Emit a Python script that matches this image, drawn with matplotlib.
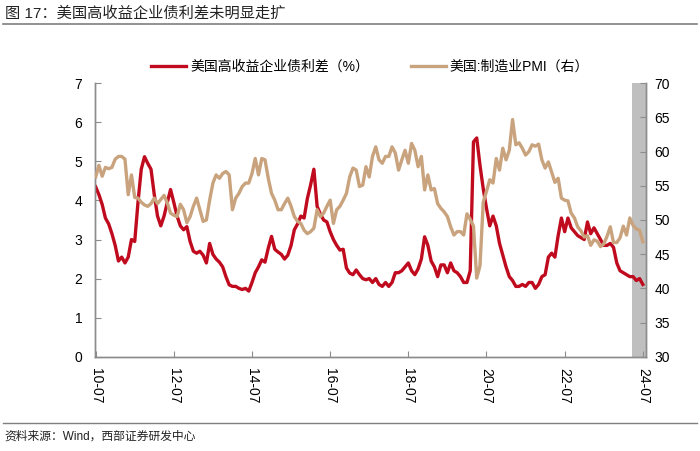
import matplotlib
matplotlib.use("Agg")
import matplotlib.pyplot as plt
import numpy as np
from matplotlib.lines import Line2D

plt.rcParams['font.family'] = ['Liberation Sans', 'Noto Sans CJK SC', 'DejaVu Sans']

# monthly data, 2010-07 .. 2024-07
spread = [4.35, 4.15, 3.9, 3.55, 3.4, 3.15, 2.85, 2.45, 2.55, 2.4, 2.55, 3.0,
          2.95, 3.95, 4.8, 5.12, 4.95, 4.8, 4.15, 3.6, 3.35, 3.6, 3.95, 4.28,
          3.95, 3.6, 3.35, 3.25, 3.33, 2.95, 2.7, 2.65, 2.7, 2.6, 2.4, 2.9,
          2.62, 2.5, 2.42, 2.3, 2.05, 1.84, 1.8, 1.8, 1.75, 1.72, 1.75, 1.68,
          1.9, 2.15, 2.3, 2.48, 2.42, 2.78, 3.08, 2.75, 2.68, 2.62, 2.5, 2.6,
          2.85, 3.25, 3.4, 3.6, 3.55, 4.05, 4.4, 4.8, 3.85, 3.65, 3.5, 3.45,
          3.2, 3.0, 2.85, 2.73, 2.75, 2.27, 2.14, 2.1, 2.22, 2.1, 2.0, 1.97,
          2.0, 1.9, 2.0, 1.85, 1.8, 1.9, 1.8, 1.9, 2.15, 2.15, 2.2, 2.3,
          2.4, 2.2, 2.1, 2.25, 2.5, 3.07, 2.85, 2.45, 2.3, 2.05, 2.35, 2.35,
          2.15, 2.4, 2.2, 2.15, 2.05, 1.9, 1.9, 2.2, 5.5, 5.6, 4.9, 4.3,
          3.8, 3.35, 3.6, 3.35, 2.9, 2.6, 2.3, 2.05, 1.95, 1.8, 1.8, 1.85,
          1.8, 1.9, 1.9, 1.75, 1.85, 2.05, 2.1, 2.55, 2.65, 2.55, 3.1, 3.55,
          3.2, 3.55, 3.3, 3.2, 3.1, 3.05, 3.0, 3.45, 3.15, 3.3, 3.15, 3.0,
          2.85, 2.85, 2.9, 2.8, 2.4, 2.2, 2.15, 2.1, 2.05, 2.05, 1.95, 2.0, 1.85]

pmi = [56.3, 58.0, 56.4, 57.7, 57.5, 57.7, 58.9, 59.3, 59.3, 58.9, 53.7, 56.6,
       53.3, 53.2, 52.6, 52.2, 52.0, 52.4, 53.2, 52.4, 53.0, 53.6, 52.5, 51.0,
       50.7, 50.5, 52.3, 51.5, 49.6, 50.5, 52.0, 53.2, 51.5, 49.8, 50.0, 52.9,
       55.4, 56.6, 56.1, 56.8, 57.1, 56.6, 51.5, 53.2, 53.9, 54.9, 55.4, 55.4,
       56.8, 59.0, 56.6, 59.0, 58.8, 56.1, 53.9, 52.9, 51.5, 51.5, 52.4, 53.2,
       52.0, 50.5, 49.8, 49.5, 48.5, 48.0, 48.3, 48.8, 51.5, 50.5, 51.0, 52.0,
       52.9, 49.5, 51.5, 52.0, 52.9, 53.9, 56.3, 57.6, 57.3, 54.9, 55.1, 57.8,
       56.3, 59.3, 60.7, 58.8, 58.3, 59.3, 59.3, 60.7, 59.8, 57.3, 58.8, 60.2,
       58.3, 61.2, 60.2, 57.8, 59.3, 54.4, 56.6, 54.4, 54.6, 52.4, 51.7, 51.2,
       50.5, 49.0, 47.8, 48.3, 48.3, 47.8, 50.9, 50.1, 49.1, 41.5, 43.3, 52.6,
       54.2, 55.9, 55.4, 59.0, 57.3, 60.5, 58.8, 60.2, 64.7, 61.0, 61.3, 60.5,
       59.5, 60.0, 61.0, 60.8, 61.1, 58.8, 57.6, 58.5, 57.0, 55.5, 56.1, 53.2,
       52.9, 52.8, 51.0, 50.3, 49.0, 48.4, 47.5, 47.7, 46.3, 47.1, 46.9, 46.1,
       46.5, 47.6, 49.0, 46.7, 46.7, 47.4, 49.1, 47.8, 50.3, 49.2, 48.7, 48.5, 46.8]

tick_labels = ['10-07', '12-07', '14-07', '16-07', '18-07', '20-07', '22-07', '24-07']
tick_pos = [0, 24, 48, 72, 96, 120, 144, 168]
shade = (164.6, 169.0)   # 阴影区间（月序号）

red = '#C00A1E'
tan = '#C8A37D'
axis_gray = '#8C8C8C'

x = np.arange(len(spread))

fig = plt.figure(figsize=(7, 4.51), dpi=100)
ax = fig.add_axes([0.1357, 0.2091, 0.7873, 0.6062])
ax2 = ax.twinx()

ax.axvspan(shade[0], shade[1], color='#BFBFBF', lw=0, zorder=0)
l1, = ax.plot(x, spread, color=red, lw=2.4, zorder=3, solid_joinstyle='round')
l2, = ax2.plot(x, pmi, color=tan, lw=2.4, zorder=3, solid_joinstyle='round')

ax.set_xlim(-0.2, 169.0)
ax.set_ylim(0, 7)
ax2.set_ylim(30, 70)
ax.set_yticks(range(0, 8))
ax2.set_yticks(range(30, 71, 5))
ax.set_xticks(tick_pos)
ax.set_xticklabels(tick_labels, rotation=-90)

for a in (ax, ax2):
    a.spines['top'].set_visible(False)
    for s in ('left', 'right', 'bottom'):
        a.spines[s].set_color(axis_gray)
        a.spines[s].set_linewidth(1.0)
ax.tick_params(axis='y', direction='in', length=4, color=axis_gray, labelsize=10, pad=9)
ax.tick_params(axis='x', direction='in', length=4, color=axis_gray, labelsize=10, pad=8)
ax2.tick_params(axis='y', direction='in', length=4, color=axis_gray, labelsize=10, pad=6)

fig.legend([l1, l2], ['美国高收益企业债利差（%）', '美国:制造业PMI（右）'],
           loc='center', bbox_to_anchor=(0.529, 0.852), ncol=2, frameon=False,
           fontsize=10, handlelength=2.5, handletextpad=0.3, columnspacing=3.0)

fig.text(0.007, 0.969, '图 17：美国高收益企业债利差未明显走扩', fontsize=11,
         va='center', ha='left', color='#222222')
fig.add_artist(Line2D([0.004, 0.996], [0.9457, 0.9457], color='#7F7F7F', lw=1.2))
fig.add_artist(Line2D([0.004, 0.996], [0.062, 0.062], color='#7F7F7F', lw=1.0))
fig.text(0.007, 0.031, '资料来源：Wind，西部证券研发中心', fontsize=8.5,
         va='center', ha='left', color='#222222')

fig.savefig('out.png', dpi=100)
